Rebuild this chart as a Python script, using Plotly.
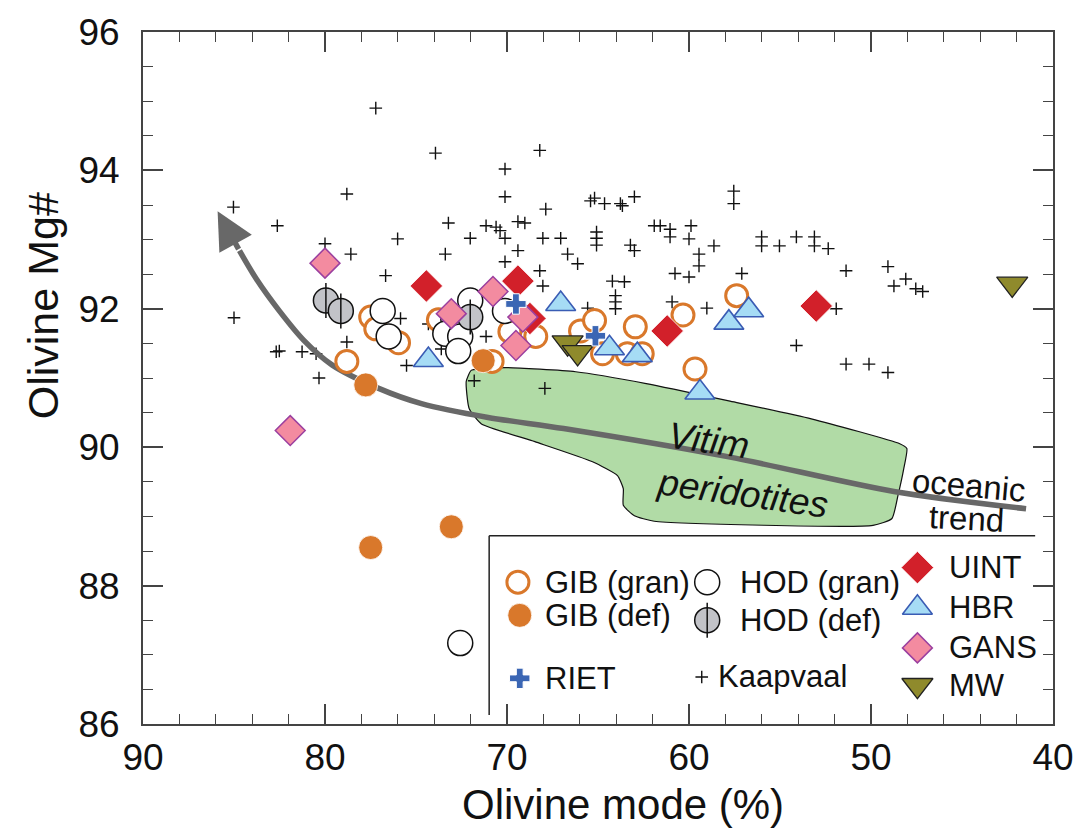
import plotly.graph_objects as go

# ---------------- data ----------------
kaap_x = [85.03, 85.0, 82.62, 78.80, 77.21, 80.0, 78.58, 76.01, 76.67, 73.93, 82.51, 82.68, 81.26,
          80.49, 80.33, 78.80, 75.85, 75.52, 73.61, 71.15, 71.8, 74.32, 73.39, 70.11, 68.2, 68.03,
          69.4, 67.92, 68.2, 70.11, 70.11, 67.87, 73.22, 71.15, 70.6, 70.38, 69.4, 69.02, 72.02,
          70.11, 68.03, 67.05, 66.67, 66.12, 65.41, 65.19, 64.64, 63.77, 63.66, 63.0, 65.08, 65.08,
          65.08, 63.22, 63.0, 61.91, 61.58, 61.04, 61.04, 59.89, 60.0, 58.63, 59.45, 59.45, 60.77,
          60.0, 64.21, 63.55, 64.04, 64.04, 64.04, 65.57, 60.93, 59.02, 57.54, 57.54, 57.1, 56.01,
          56.01, 55.03, 54.1, 53.11, 53.11, 52.35, 51.37, 49.07, 48.74, 48.09, 47.54, 47.16, 51.91,
          54.1, 51.37, 50.11, 49.07]
kaap_y = [93.47, 91.87, 93.20, 93.66, 94.90, 92.94, 92.79, 93.01, 92.48, 94.25, 91.39, 91.38, 91.38,
          91.35, 91.00, 91.52, 91.86, 91.18, 91.42, 91.60, 90.96, 91.78, 92.79, 92.68, 92.55, 92.33,
          92.84, 90.85, 94.29, 94.02, 93.62, 93.44, 93.24, 93.20, 93.18, 93.13, 93.26, 93.24, 93.02,
          93.02, 93.02, 93.02, 92.79, 92.65, 93.56, 93.60, 93.52, 93.52, 93.49, 93.62, 93.11, 93.02,
          92.92, 92.92, 92.84, 93.20, 93.20, 93.15, 93.04, 93.20, 93.01, 92.91, 92.79, 92.62, 92.51,
          92.46, 92.40, 92.39, 92.19, 92.10, 92.0, 92.01, 92.10, 92.01, 93.70, 93.52, 92.51, 93.04,
          92.91, 92.91, 93.04, 93.04, 92.91, 92.87, 92.55, 92.61, 92.33, 92.43, 92.29, 92.25, 92.0,
          91.47, 91.20, 91.20, 91.08]

gib_gran_x = [78.80, 77.49, 77.21, 75.96, 73.77, 70.82, 69.84, 68.42, 65.96, 65.19, 64.75, 63.39,
              62.57, 62.95, 60.33, 57.38, 59.67]
gib_gran_y = [91.24, 91.88, 91.71, 91.51, 91.84, 91.24, 91.67, 91.60, 91.68, 91.83, 91.35, 91.35,
              91.35, 91.74, 91.91, 92.19, 91.13]
gib_def_x = [77.76, 71.31, 73.06, 77.49]
gib_def_y = [90.90, 91.25, 88.85, 88.55]
hod_gran_x = [76.83, 76.50, 72.02, 72.95, 73.39, 72.57, 72.68, 70.11, 72.57]
hod_gran_y = [91.97, 91.60, 92.12, 91.86, 91.64, 91.60, 91.39, 91.97, 87.17]
hod_def_x = [79.95, 79.13, 72.02]
hod_def_y = [92.12, 91.97, 91.88]
riet_x = [69.51, 65.14]
riet_y = [92.07, 91.61]
uint_x = [74.43, 69.40, 68.74, 61.20, 53.01]
uint_y = [92.33, 92.40, 91.86, 91.68, 92.04]
hbr_x = [74.32, 67.05, 64.37, 62.84, 57.81, 56.72, 59.40]
hbr_y = [91.26, 92.07, 91.43, 91.33, 91.80, 91.98, 90.79]
gans_x = [80.0, 81.91, 73.06, 70.77, 69.13, 69.51]
gans_y = [92.66, 90.24, 91.93, 92.25, 91.88, 91.47]
mw_x = [66.67, 66.12, 42.24]
mw_y = [91.51, 91.37, 92.36]

# Vitim peridotites field outline
vitim_x = [71.97, 72.24, 72.08, 71.42, 68.47, 65.30, 63.93, 63.61, 63.61, 63.0, 61.91, 49.89, 48.85,
           48.52, 48.20, 48.03, 48.42, 53.28, 57.81, 62.35, 66.23, 70.05, 71.42, 71.97]
vitim_y = [91.11, 90.95, 90.56, 90.34, 90.08, 89.79, 89.59, 89.40, 89.16, 89.01, 88.93, 88.87, 88.97,
           89.30, 89.69, 89.98, 90.05, 90.41, 90.67, 90.92, 91.09, 91.15, 91.13, 91.11]

# oceanic trend curve (right to left) and arrow tip
trend_x = [41.48, 48.74, 57.81, 66.89, 71.04, 74.70, 77.05, 79.62, 81.15, 82.51, 83.77, 84.70]
trend_y = [89.11, 89.36, 89.86, 90.27, 90.43, 90.63, 90.85, 91.19, 91.54, 91.97, 92.43, 92.84]
trend_tip = (85.90, 93.41)

# ---------------- styles ----------------
ORANGE = "#d9782b"
FONT = "Liberation Sans, Arial, Helvetica, sans-serif"

styles = {
    "GIB (gran)": dict(symbol="circle", size=22, color="white", line=dict(color=ORANGE, width=3)),
    "GIB (def)": dict(symbol="circle", size=24, color=ORANGE, line=dict(color="white", width=0.8)),
    "HOD (gran)": dict(symbol="circle", size=25, color="white", line=dict(color="#111", width=1.5)),
    "HOD (def)": dict(symbol="circle", size=25, color="#c2c3c8", line=dict(color="#111", width=1.5)),
    "UINT": dict(symbol="diamond", size=25, color="#d2202a", line=dict(color="white", width=0.8)),
    "GANS": dict(symbol="diamond", size=23, color="#f38ba0", line=dict(color="#9b3f9f", width=1.5)),
    "MW": dict(symbol="triangle-down", size=27, color="#8f8a2c", line=dict(color="#222", width=1.3)),
    "HBR": dict(symbol="triangle-up", size=26, color="#a6dcf5", line=dict(color="#3a5cb4", width=1.6)),
    "RIET": dict(symbol="cross", size=17, color="#3b66b4", line=dict(color="white", width=1)),
    "Kaapvaal": dict(symbol="cross-thin", size=9, color="#111", line=dict(color="#111", width=1.4)),
}
half_line = dict(symbol="line-ns", size=25, color="#111", line=dict(color="#111", width=1.5))

fig = go.Figure()

# Vitim field
fig.add_trace(go.Scatter(x=vitim_x, y=vitim_y, mode="lines", fill="toself", fillcolor="#b1dba6",
                         line=dict(color="#111", width=1.2, shape="spline", smoothing=0.5),
                         hoverinfo="skip"))
# Kaapvaal
fig.add_trace(go.Scatter(x=kaap_x, y=kaap_y, mode="markers", marker=styles["Kaapvaal"], name="Kaapvaal"))
# oceanic trend
fig.add_trace(go.Scatter(x=trend_x, y=trend_y, mode="lines",
                         line=dict(color="#686868", width=5.5, shape="spline", smoothing=0.8),
                         hoverinfo="skip"))

series = [
    ("GIB (gran)", gib_gran_x, gib_gran_y),
    ("GIB (def)", gib_def_x, gib_def_y),
    ("HOD (gran)", hod_gran_x, hod_gran_y),
    ("HOD (def)", hod_def_x, hod_def_y),
    ("UINT", uint_x, uint_y),
    ("GANS", gans_x, gans_y),
    ("MW", mw_x, mw_y),
    ("HBR", hbr_x, hbr_y),
    ("RIET", riet_x, riet_y),
]
for name, xs, ys in series:
    fig.add_trace(go.Scatter(x=xs, y=ys, mode="markers", marker=styles[name], name=name))
    if name == "HOD (def)":
        fig.add_trace(go.Scatter(x=xs, y=ys, mode="markers", marker=half_line, hoverinfo="skip"))

# ---------------- hand-made legend (positions as fractions of the plot area) ----------------
legend_items = [
    ("GIB (gran)", 0.412, 0.205, 0.440),
    ("GIB (def)", 0.414, 0.157, 0.440),
    ("RIET", 0.414, 0.066, 0.440),
    ("HOD (gran)", 0.620, 0.205, 0.654),
    ("HOD (def)", 0.620, 0.150, 0.654),
    ("Kaapvaal", 0.614, 0.068, 0.630),
    ("UINT", 0.851, 0.226, 0.884),
    ("HBR", 0.851, 0.168, 0.884),
    ("GANS", 0.851, 0.110, 0.884),
    ("MW", 0.851, 0.056, 0.884),
]
annotations = []
for name, mx, my, tx in legend_items:
    fig.add_trace(go.Scatter(x=[mx], y=[my], xaxis="x2", yaxis="y2", mode="markers",
                             marker=styles[name], hoverinfo="skip"))
    if name == "HOD (def)":
        fig.add_trace(go.Scatter(x=[mx], y=[my], xaxis="x2", yaxis="y2", mode="markers",
                                 marker=half_line, hoverinfo="skip"))
    annotations.append(dict(x=tx, y=my, xref="paper", yref="paper", text=name, showarrow=False,
                            xanchor="left", yanchor="middle",
                            font=dict(size=31, family=FONT, color="#111")))

# arrow head of the oceanic trend
annotations.append(dict(x=trend_tip[0], y=trend_tip[1], ax=trend_x[-1], ay=trend_y[-1],
                        xref="x", yref="y", axref="x", ayref="y", text="", showarrow=True,
                        arrowhead=2, arrowsize=1.35, arrowwidth=5.5, arrowcolor="#686868", standoff=0))
# labels
annotations += [
    dict(x=58.91, y=90.10, xref="x", yref="y", text="<i>Vitim</i>", showarrow=False, textangle=8,
         font=dict(size=37, family=FONT, color="#111")),
    dict(x=57.05, y=89.33, xref="x", yref="y", text="<i>peridotites</i>", showarrow=False, textangle=8,
         font=dict(size=37, family=FONT, color="#111")),
    dict(x=44.59, y=89.45, xref="x", yref="y", text="oceanic", showarrow=False, textangle=5,
         font=dict(size=33, family=FONT, color="#111")),
    dict(x=44.75, y=88.97, xref="x", yref="y", text="trend", showarrow=False, textangle=3,
         font=dict(size=33, family=FONT, color="#111")),
    dict(x=-0.110, y=0.605, xref="paper", yref="paper", text="Olivine Mg#", showarrow=False,
         textangle=-90, xanchor="center", yanchor="middle",
         font=dict(size=43, family=FONT, color="#111")),
    dict(x=0.527, y=-0.117, xref="paper", yref="paper", text="Olivine mode (%)", showarrow=False,
         xanchor="center", yanchor="middle",
         font=dict(size=42, family=FONT, color="#111")),
]

# legend frame (open box)
shapes = [
    dict(type="line", xref="x", yref="y", x0=70.98, x1=70.98, y0=88.72, y1=86.13,
         line=dict(color="#222", width=1.5)),
    dict(type="line", xref="x", yref="y", x0=70.98, x1=40.98, y0=88.72, y1=88.72,
         line=dict(color="#222", width=1.5)),
]

axis_common = dict(ticks="inside", ticklen=20, tickwidth=1.6, tickcolor="#444", showline=True,
                   linecolor="#444", linewidth=2, mirror="allticks", showgrid=False, zeroline=False,
                   tickfont=dict(size=37, family=FONT, color="#111"))
fig.update_layout(
    width=1086, height=830, margin=dict(l=143, r=28, t=32, b=106),
    plot_bgcolor="white", paper_bgcolor="white", showlegend=False,
    font=dict(family=FONT, color="#111"),
    xaxis=dict(range=[90, 40], dtick=10, tick0=40, ticklabelstandoff=0,
               minor=dict(dtick=2, ticklen=10, ticks="inside", tickcolor="#444", tickwidth=1.3),
               **axis_common),
    yaxis=dict(range=[86, 96], dtick=2, tick0=86, ticklabelstandoff=14,
               minor=dict(dtick=0.5, ticklen=10, ticks="inside", tickcolor="#444", tickwidth=1.3),
               **axis_common),
    xaxis2=dict(overlaying="x", range=[0, 1], visible=False, fixedrange=True),
    yaxis2=dict(overlaying="y", range=[0, 1], visible=False, fixedrange=True),
    annotations=annotations, shapes=shapes,
)

fig.write_html("out.html")
